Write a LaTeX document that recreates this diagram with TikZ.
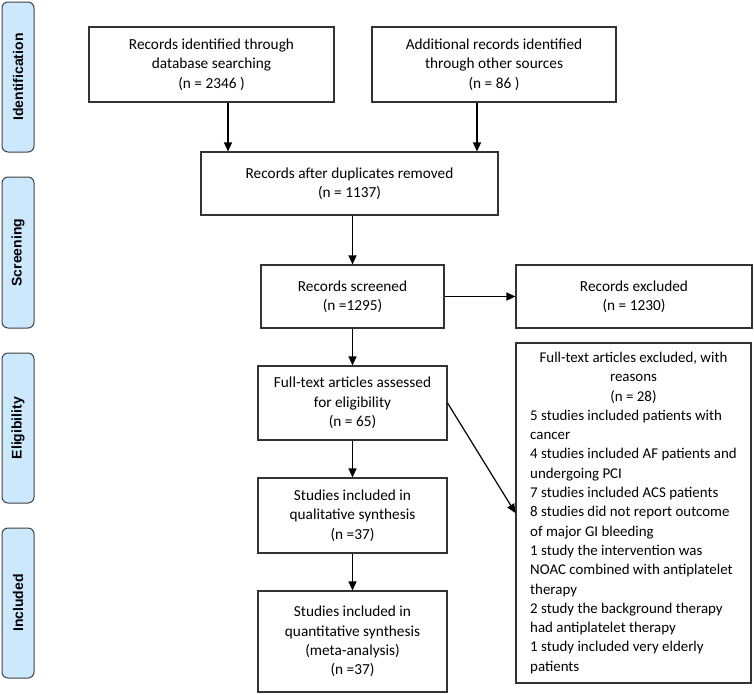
\documentclass[tikz,border=0pt]{standalone}
\usepackage{fontspec}
\setmainfont{Carlito}
\newfontfamily\labelfont{Liberation Sans}
\usetikzlibrary{arrows.meta}
\begin{document}
\begin{tikzpicture}[x=1pt,y=-1pt,
  box/.style={draw=black!80, line width=1.1pt, align=center, inner sep=2pt,
    font=\fontsize{15.3}{19.3}\selectfont},
  listbox/.style={box, font=\fontsize{14.9}{19.3}\selectfont},
  side/.style={draw=black!75, line width=1pt, fill=sidefill, rounded corners=6pt,
    minimum width=32pt, minimum height=150pt, inner sep=0pt},
  sidetext/.style={rotate=90, font=\labelfont\bfseries\fontsize{14}{16}\selectfont},
  arr/.style={-{Triangle[length=9pt,width=8pt]}, line width=1.2pt}]
\definecolor{sidefill}{HTML}{CCE8FD}
\useasboundingbox (0,0) rectangle (754,694);
% side labels
\node[side] (lid) at (18,77) {};
\node[sidetext] (tid) at (lid.center) {Identification};
\node[side, minimum height=151pt] (lsc) at (18,252.5) {};
\node[sidetext] (tsc) at (lsc.center) {Screening};
\node[side] (lel) at (18,428) {};
\node[sidetext] (tel) at (lel.center) {Eligibility};
\node[side] (lin) at (18,603) {};
\node[sidetext] (tin) at (lin.center) {Included};
% boxes
\node[box, minimum width=245pt, minimum height=75pt] (b1) at (211.5,64.5)
  {Records identified through\\database searching\\(n = 2346 )};
\node[box, minimum width=244pt, minimum height=75pt] (b2) at (494,64.5)
  {Additional records identified\\through other sources\\(n = 86 )};
\node[box, minimum width=297pt, minimum height=63pt] (b3) at (349.5,183.5)
  {Records after duplicates removed\\(n = 1137)};
\node[box, minimum width=183pt, minimum height=63pt] (s) at (352.5,296.5)
  {Records screened\\(n =1295)};
\node[box, minimum width=236pt, minimum height=63pt] (ex) at (634,296.5)
  {Records excluded\\(n = 1230)};
\node[box, minimum width=189pt, minimum height=74pt] (ft) at (352.5,403)
  {Full-text articles assessed\\for eligibility\\(n = 65)};
\node[box, minimum width=189pt, minimum height=75pt] (ql) at (352.5,515.5)
  {Studies included in\\qualitative synthesis\\(n =37)};
\node[box, minimum width=189pt, minimum height=101pt] (qn) at (352.5,641.5)
  {Studies included in\\quantitative synthesis\\(meta-analysis)\\(n =37)};
\node[listbox, minimum width=235pt, minimum height=340pt] (fx) at (633.5,513)
  {\begin{tabular}{@{}l@{}}
   \multicolumn{1}{@{}c@{}}{Full-text articles excluded, with}\\
   \multicolumn{1}{@{}c@{}}{reasons}\\
   \multicolumn{1}{@{}c@{}}{(n = 28)}\\
   5 studies included patients with\\cancer\\
   4 studies included AF patients and\\undergoing PCI\\
   7 studies included ACS patients\\
   8 studies did not report outcome\\of major GI bleeding\\
   1 study the intervention was\\NOAC combined with antiplatelet\\therapy\\
   2 study the background therapy\\had antiplatelet therapy\\
   1 study included very elderly\\patients
   \end{tabular}};
% arrows
\draw[arr] ([xshift=16.5pt]b1.south) -- ([xshift=16.5pt]b1.south |- b3.north);
\draw[arr] ([xshift=-17pt]b2.south) -- ([xshift=-17pt]b2.south |- b3.north);
\draw[arr] (b3.south -| s.north) -- (s.north);
\draw[arr] (s.east) -- (ex.west);
\draw[arr] (s.south) -- (ft.north);
\draw[arr] (ft.east) -- (fx.west);
\draw[arr] (ft.south) -- (ql.north);
\draw[arr] (ql.south) -- (qn.north);
\end{tikzpicture}
\end{document}
